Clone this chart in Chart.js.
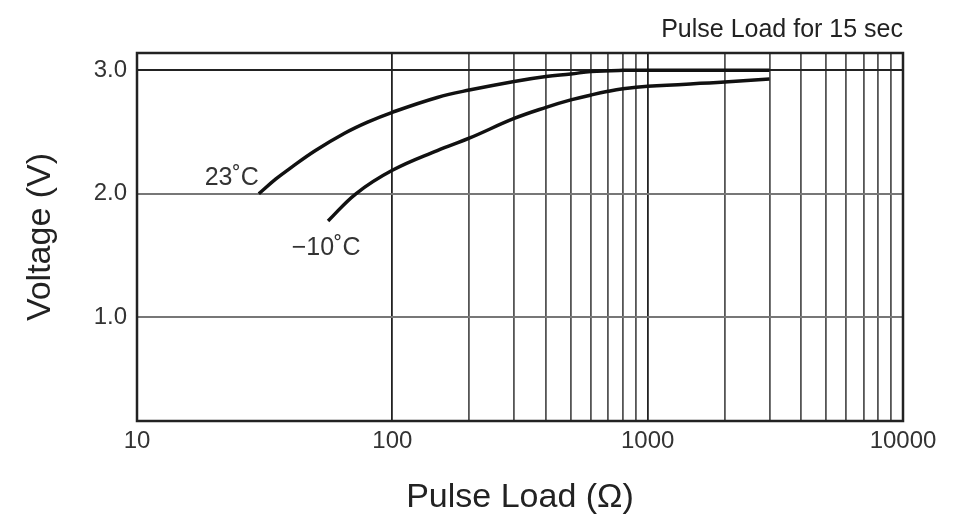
<!DOCTYPE html>
<html>
<head>
<meta charset="utf-8">
<script src="https://cdn.jsdelivr.net/npm/chart.js@4"></script>
<style>
  html, body { margin: 0; padding: 0; background: #fff; }
  #wrap { width: 966px; height: 515px; }
</style>
</head>
<body>
<div id="wrap"><canvas id="chart" width="966" height="515"></canvas></div>
<script>
// values
const loads23 = [30, 35, 40, 50, 65, 80, 100, 150, 200, 300, 400, 500, 600, 800, 1000, 3000];
const volts23 = [2.0, 2.12, 2.21, 2.35, 2.49, 2.58, 2.66, 2.78, 2.84, 2.91, 2.95, 2.97, 2.99, 3.0, 3.0, 3.0];
const loadsMinus10 = [56, 72, 100, 150, 200, 300, 400, 500, 600, 700, 800, 1000, 2000, 3000];
const voltsMinus10 = [1.78, 2.0, 2.19, 2.35, 2.45, 2.61, 2.70, 2.76, 2.80, 2.83, 2.85, 2.87, 2.905, 2.93];
const seriesNames = ['23˚C', '−10˚C'];

const xTicks = [10, 100, 200, 300, 400, 500, 600, 700, 800, 900,
  1000, 2000, 3000, 4000, 5000, 6000, 7000, 8000, 9000, 10000];
const xTickLabels = ['10', '100', '1000', '10000'];
const yTicks = [1.0, 2.0, 3.0];

const FONT = '"Liberation Sans", Arial, sans-serif';

const toPoints = (xs, ys) => xs.map((x, i) => ({ x: x, y: ys[i] }));

// frame round the plot area
const frame = {
  id: 'frame',
  beforeDatasetsDraw(chart) {
    const { ctx, chartArea: a } = chart;
    ctx.save();
    ctx.strokeStyle = '#222';
    ctx.lineWidth = 2.5;
    ctx.strokeRect(a.left, a.top, a.right - a.left, a.bottom - a.top);
    ctx.restore();
  }
};

// curve names next to the start of each line
const curveLabels = {
  id: 'curveLabels',
  afterDatasetsDraw(chart) {
    const { ctx, scales: { x, y } } = chart;
    ctx.save();
    ctx.font = '25px ' + FONT;
    ctx.fillStyle = '#333';
    ctx.textBaseline = 'middle';
    ctx.textAlign = 'right';
    ctx.fillText(seriesNames[0], x.getPixelForValue(30), y.getPixelForValue(2.13));
    ctx.textAlign = 'center';
    ctx.fillText(seriesNames[1], x.getPixelForValue(55), y.getPixelForValue(1.56));
    ctx.restore();
  }
};

new Chart(document.getElementById('chart'), {
  type: 'line',
  data: {
    datasets: [
      {
        label: seriesNames[0],
        data: toPoints(loads23, volts23),
        borderColor: '#111',
        borderWidth: 3.5,
        pointRadius: 0,
        tension: 0.4,
        fill: false
      },
      {
        label: seriesNames[1],
        data: toPoints(loadsMinus10, voltsMinus10),
        borderColor: '#111',
        borderWidth: 3.5,
        pointRadius: 0,
        tension: 0.4,
        fill: false
      }
    ]
  },
  options: {
    responsive: false,
    animation: false,
    layout: { padding: { top: 0, right: 63, bottom: 0, left: 0 } },
    plugins: {
      legend: { display: false },
      tooltip: { enabled: false },
      title: {
        display: true,
        text: 'Pulse Load for 15 sec',
        align: 'end',
        color: '#222',
        font: { family: FONT, size: 25, weight: 'normal' },
        padding: { top: 15, bottom: 8 }
      }
    },
    scales: {
      x: {
        type: 'logarithmic',
        min: 10,
        max: 10000,
        afterBuildTicks: (scale) => { scale.ticks = xTicks.map(v => ({ value: v })); },
        afterFit: (scale) => { scale.height = 94; },
        border: { display: false },
        grid: {
          drawTicks: false,
          color: (c) => ([100, 1000].includes(c.tick && c.tick.value) ? '#222' : '#555'),
          lineWidth: 1.8
        },
        ticks: {
          autoSkip: false,
          maxRotation: 0,
          padding: 6,
          color: '#333',
          font: { family: FONT, size: 24 },
          callback: (v) => (xTickLabels.includes(String(v)) ? String(v) : '')
        },
        title: {
          display: true,
          text: 'Pulse Load (Ω)',
          color: '#222',
          font: { family: FONT, size: 34, lineHeight: 1.0 },
          padding: { top: 0, bottom: 0 }
        }
      },
      y: {
        type: 'linear',
        min: 0.16,
        max: 3.14,
        afterBuildTicks: (scale) => { scale.ticks = yTicks.map(v => ({ value: v })); },
        afterFit: (scale) => { scale.width = 137; },
        border: { display: false },
        grid: {
          drawTicks: false,
          color: (c) => (c.tick && c.tick.value === 3 ? '#222' : '#777'),
          lineWidth: 2
        },
        ticks: {
          padding: 10,
          color: '#333',
          font: { family: FONT, size: 24 },
          callback: (v) => Number(v).toFixed(1)
        },
        title: {
          display: true,
          text: 'Voltage (V)',
          color: '#222',
          font: { family: FONT, size: 34 },
          padding: { top: 20, bottom: 0 }
        }
      }
    }
  },
  plugins: [frame, curveLabels]
});
</script>
</body>
</html>
